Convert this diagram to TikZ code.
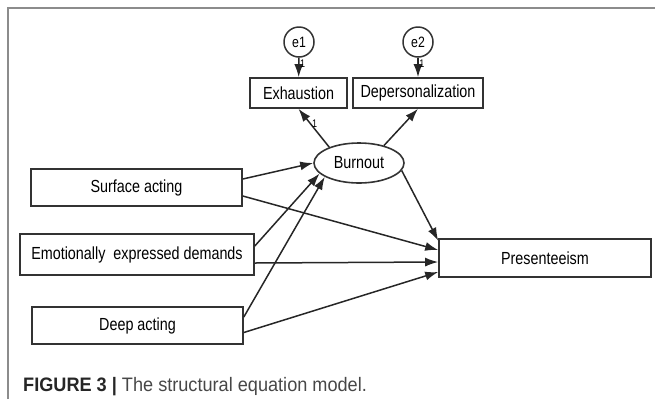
\documentclass[tikz,border=0pt]{standalone}
\usepackage{fontspec}
\setmainfont{Liberation Sans}
\newfontfamily\narrowfont[FakeStretch=0.82]{Liberation Sans}
\newfontfamily\capfont[FakeStretch=0.93]{Liberation Sans}
\usetikzlibrary{arrows.meta,shapes.geometric}
\begin{document}
\begin{tikzpicture}[x=1pt,y=-1pt,
  box/.style={draw=black!80,line width=1.6pt,rectangle,inner sep=0pt,font=\narrowfont\fontsize{17.5}{19}\selectfont},
  latent/.style={draw=black!80,line width=1.6pt,ellipse,inner sep=0pt,font=\narrowfont\fontsize{17.5}{19}\selectfont},
  err/.style={draw=black!80,line width=1.5pt,circle,inner sep=0pt,minimum size=30pt,font=\narrowfont\fontsize{15}{17}\selectfont},
  path/.style={draw=black!85,line width=1.5pt,-{Latex[length=13pt,width=9pt]}},
  one/.style={font=\narrowfont\fontsize{11}{12}\selectfont,inner sep=0.5pt}]
\useasboundingbox (0,0) rectangle (655,408);
\draw[black!45,line width=2pt] (7.5,399) -- (7.5,7.5) -- (655,7.5);

\node[err] (e1) at (299,42) {e1};
\node[err] (e2) at (418,42) {e2};
\node[box,minimum width=97pt,minimum height=30pt] (exh) at (298.5,93) {Exhaustion};
\node[box,minimum width=130pt,minimum height=30pt] (dep) at (418,93) {Depersonalization};
\node[latent,minimum width=90pt,minimum height=40pt] (burn) at (359,163) {Burnout};
\node[box,minimum width=211pt,minimum height=37pt] (sa) at (136.5,187.5) {Surface acting};
\node[box,minimum width=234pt,minimum height=41pt] (eed) at (137,254.5) {Emotionally\ \ expressed demands};
\node[box,minimum width=211pt,minimum height=37pt] (da) at (137.5,325.5) {Deep acting};
\node[box,minimum width=212pt,minimum height=38pt] (pres) at (545,258) {Presenteeism};

\draw[path] (e1) -- node[one,right,pos=0.3] {1} (exh);
\draw[path] (e2) -- node[one,right,pos=0.3] {1} (dep);
\draw[path] (burn.152) -- node[one,right,pos=0.6] {1} (exh.south);
\draw[path] (burn.35) -- (dep.south);

\draw[path] ([yshift=8.5pt]sa.east) -- (burn.180);
\draw[path] ([yshift=-8.5pt]sa.east) -- ([yshift=8pt]pres.west);
\draw[path] ([yshift=8.5pt]eed.east) -- (burn.195);
\draw[path] ([yshift=-8.5pt]eed.east) -- ([yshift=-4pt]pres.west);
\draw[path] ([yshift=8.5pt]da.east) -- (burn.202);
\draw[path] ([yshift=-7pt]da.east) -- ([yshift=-14pt]pres.west);
\draw[path] (burn.-10) -- ([yshift=-2.5pt]pres.north west);

\node[anchor=base west,inner sep=0pt,font=\capfont\fontsize{19.5}{21}\selectfont,text=black!72] (cap) at (23,391)
  {{\bfseries\color{black!85}FIGURE 3 |} The structural equation model.};
\end{tikzpicture}
\end{document}
